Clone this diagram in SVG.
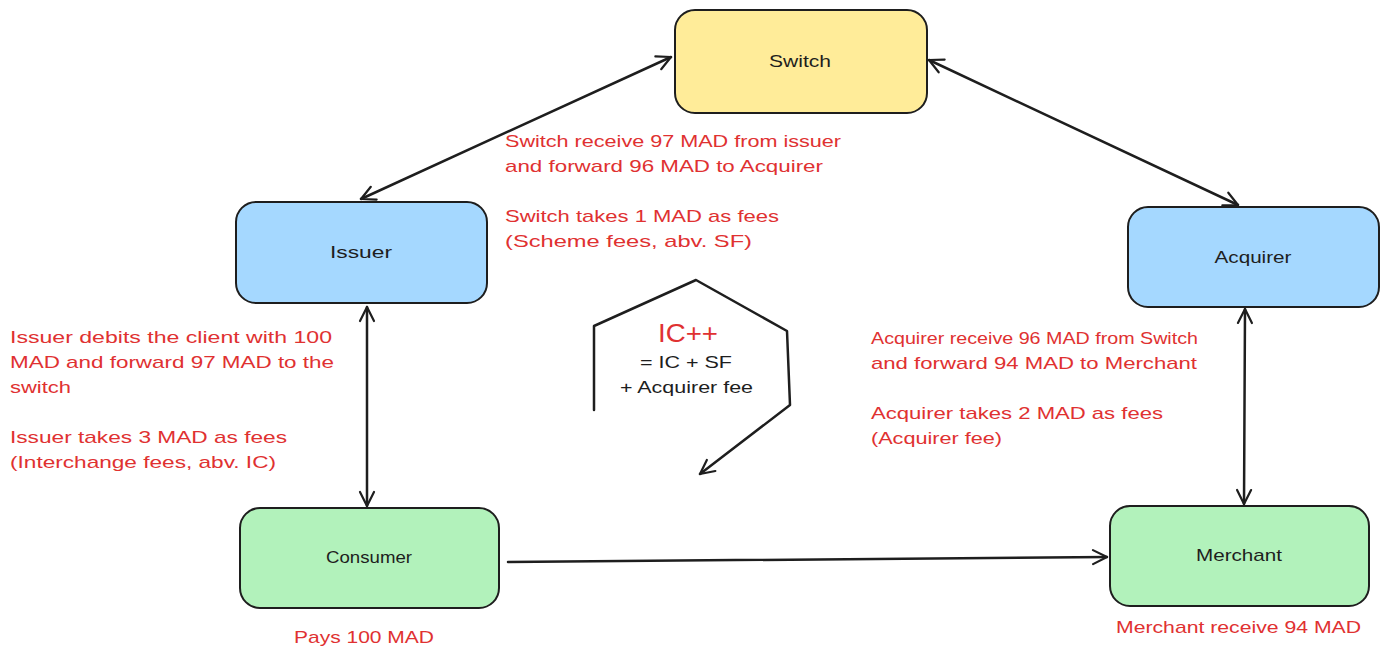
<svg xmlns="http://www.w3.org/2000/svg" width="1389" height="660" viewBox="0 0 1389 660">
<style>
.node{stroke:#1e1e1e;stroke-width:2}
.lbl{font-family:"Liberation Sans",Arial,sans-serif;font-size:17px;fill:#1e1e1e;text-anchor:middle;dominant-baseline:central}
.red{font-family:"Liberation Sans",Arial,sans-serif;font-size:17px;fill:#e03131}
.blk{font-family:"Liberation Sans",Arial,sans-serif;font-size:17px;fill:#1e1e1e}
.conn{fill:none;stroke:#1e1e1e;stroke-width:2.5;stroke-linecap:round;stroke-linejoin:round}
</style>
<defs>
<marker id="ah" viewBox="-16 -9 18 18" markerWidth="18" markerHeight="18" refX="0" refY="0" orient="auto-start-reverse" markerUnits="userSpaceOnUse">
<path d="M -14 -7 L 0 0 L -14 7" fill="none" stroke="#1e1e1e" stroke-width="2.2" stroke-linecap="round" stroke-linejoin="round"/>
</marker>
</defs>
<rect width="1389" height="660" fill="#ffffff"/>

<g id="connectors">
<line class="conn" x1="361" y1="199" x2="671" y2="57" marker-start="url(#ah)" marker-end="url(#ah)"/>
<line class="conn" x1="929" y1="60" x2="1238" y2="205" marker-start="url(#ah)" marker-end="url(#ah)"/>
<line class="conn" x1="367" y1="307" x2="367" y2="506" marker-start="url(#ah)" marker-end="url(#ah)"/>
<line class="conn" x1="1245" y1="309" x2="1244" y2="504" marker-start="url(#ah)" marker-end="url(#ah)"/>
<path class="conn" d="M 508 562 L 1107 557" marker-end="url(#ah)"/>
<path class="conn" d="M 594 410 L 594 326 L 696 280 L 787 331 L 790 405 L 700 474" marker-end="url(#ah)"/>
</g>

<g id="switch">
<rect class="node" x="675" y="10" width="252" height="103" rx="20" fill="#ffec99"/>
<text class="lbl" x="800" y="61" textLength="62" lengthAdjust="spacingAndGlyphs">Switch</text>
</g>
<g id="issuer">
<rect class="node" x="236" y="202" width="251" height="101" rx="20" fill="#a5d8ff"/>
<text class="lbl" x="361" y="252" textLength="62" lengthAdjust="spacingAndGlyphs">Issuer</text>
</g>
<g id="acquirer">
<rect class="node" x="1128" y="207" width="251" height="100" rx="20" fill="#a5d8ff"/>
<text class="lbl" x="1253" y="257" textLength="77" lengthAdjust="spacingAndGlyphs">Acquirer</text>
</g>
<g id="consumer">
<rect class="node" x="240" y="508" width="259" height="100" rx="20" fill="#b2f2bb"/>
<text class="lbl" x="369" y="557" textLength="86" lengthAdjust="spacingAndGlyphs">Consumer</text>
</g>
<g id="merchant">
<rect class="node" x="1110" y="506" width="259" height="100" rx="20" fill="#b2f2bb"/>
<text class="lbl" x="1239" y="555" textLength="86" lengthAdjust="spacingAndGlyphs">Merchant</text>
</g>

<g id="labels">
<text class="red" x="505" y="147" textLength="336" lengthAdjust="spacingAndGlyphs">Switch receive 97 MAD from issuer</text>
<text class="red" x="505" y="172" textLength="318" lengthAdjust="spacingAndGlyphs">and forward 96 MAD to Acquirer</text>
<text class="red" x="505" y="222" textLength="274" lengthAdjust="spacingAndGlyphs">Switch takes 1 MAD as fees</text>
<text class="red" x="505" y="247" textLength="247" lengthAdjust="spacingAndGlyphs">(Scheme fees, abv. SF)</text>

<text class="red" x="10" y="343" textLength="322" lengthAdjust="spacingAndGlyphs">Issuer debits the client with 100</text>
<text class="red" x="10" y="368" textLength="324" lengthAdjust="spacingAndGlyphs">MAD and forward 97 MAD to the</text>
<text class="red" x="10" y="393" textLength="61" lengthAdjust="spacingAndGlyphs">switch</text>
<text class="red" x="10" y="443" textLength="277" lengthAdjust="spacingAndGlyphs">Issuer takes 3 MAD as fees</text>
<text class="red" x="10" y="468" textLength="266" lengthAdjust="spacingAndGlyphs">(Interchange fees, abv. IC)</text>

<text class="red" x="871" y="344" textLength="327" lengthAdjust="spacingAndGlyphs">Acquirer receive 96 MAD from Switch</text>
<text class="red" x="871" y="369" textLength="326" lengthAdjust="spacingAndGlyphs">and forward 94 MAD to Merchant</text>
<text class="red" x="871" y="419" textLength="292" lengthAdjust="spacingAndGlyphs">Acquirer takes 2 MAD as fees</text>
<text class="red" x="871" y="444" textLength="131" lengthAdjust="spacingAndGlyphs">(Acquirer fee)</text>

<text class="red" x="294" y="643" textLength="140" lengthAdjust="spacingAndGlyphs">Pays 100 MAD</text>
<text class="red" x="1116" y="633" textLength="245" lengthAdjust="spacingAndGlyphs">Merchant receive 94 MAD</text>

<text class="red" x="658" y="342" style="font-size:25px" textLength="60" lengthAdjust="spacingAndGlyphs">IC++</text>
<text class="blk" x="640" y="368" textLength="92" lengthAdjust="spacingAndGlyphs">= IC + SF</text>
<text class="blk" x="620" y="393" textLength="133" lengthAdjust="spacingAndGlyphs">+ Acquirer fee</text>
</g>
</svg>
